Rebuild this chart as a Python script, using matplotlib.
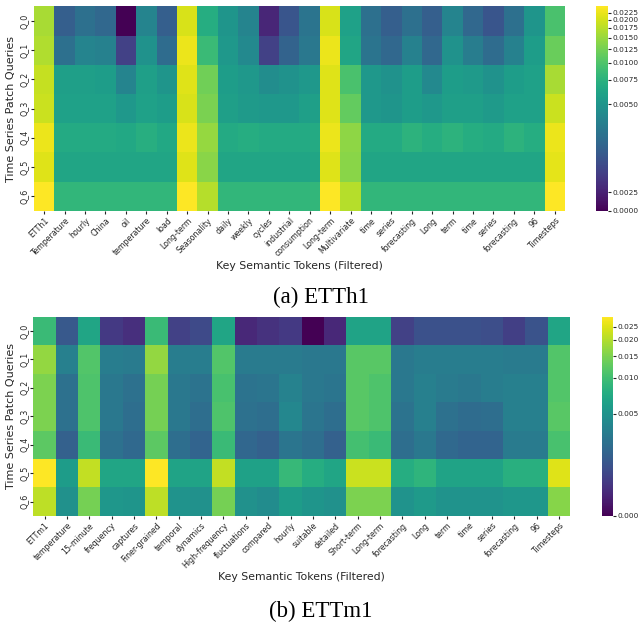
import numpy as np
import matplotlib
matplotlib.use("Agg")
import matplotlib.pyplot as plt
from matplotlib.colors import FuncNorm

# ---------------- data ----------------
queries = ["Q_0", "Q_1", "Q_2", "Q_3", "Q_4", "Q_5", "Q_6"]

tokens_h1 = ["ETTh1", "Temperature", "hourly", "China", "oil", "temperature", "load",
             "Long-term", "Seasonality", "daily", "weekly", "cycles", "industrial",
             "consumption", "Long-term", "Multivariate", "time", "series", "forecasting",
             "Long", "term", "time", "series", "forecasting", "96", "Timesteps"]

h1_q0 = [0.0163, 0.0037, 0.0041, 0.0039, 0.0000, 0.0046, 0.0037, 0.0204, 0.0070, 0.0050, 0.0046, 0.0026, 0.0035, 0.0042, 0.0204, 0.0060, 0.0041, 0.0037, 0.0041, 0.0037, 0.0046, 0.0039, 0.0035, 0.0041, 0.0050, 0.0096]
h1_q1 = [0.0168, 0.0041, 0.0046, 0.0045, 0.0031, 0.0049, 0.0040, 0.0226, 0.0086, 0.0052, 0.0047, 0.0031, 0.0038, 0.0043, 0.0226, 0.0064, 0.0042, 0.0039, 0.0045, 0.0039, 0.0049, 0.0044, 0.0040, 0.0045, 0.0056, 0.0118]
h1_q2 = [0.0185, 0.0058, 0.0058, 0.0056, 0.0046, 0.0058, 0.0050, 0.0211, 0.0122, 0.0056, 0.0052, 0.0048, 0.0049, 0.0052, 0.0211, 0.0096, 0.0052, 0.0049, 0.0056, 0.0047, 0.0056, 0.0054, 0.0049, 0.0056, 0.0060, 0.0163]
h1_q3 = [0.0191, 0.0060, 0.0060, 0.0060, 0.0052, 0.0060, 0.0056, 0.0204, 0.0130, 0.0058, 0.0054, 0.0052, 0.0052, 0.0058, 0.0211, 0.0114, 0.0052, 0.0050, 0.0056, 0.0052, 0.0058, 0.0058, 0.0054, 0.0060, 0.0060, 0.0191]
h1_q4 = [0.0226, 0.0068, 0.0068, 0.0068, 0.0066, 0.0072, 0.0066, 0.0226, 0.0148, 0.0068, 0.0070, 0.0068, 0.0068, 0.0068, 0.0226, 0.0143, 0.0068, 0.0068, 0.0075, 0.0070, 0.0075, 0.0070, 0.0068, 0.0075, 0.0070, 0.0226]
h1_q5 = [0.0211, 0.0064, 0.0064, 0.0064, 0.0064, 0.0064, 0.0064, 0.0211, 0.0139, 0.0064, 0.0064, 0.0064, 0.0064, 0.0064, 0.0211, 0.0139, 0.0064, 0.0064, 0.0064, 0.0064, 0.0064, 0.0064, 0.0064, 0.0064, 0.0064, 0.0218]
h1_q6 = [0.0249, 0.0080, 0.0080, 0.0080, 0.0080, 0.0080, 0.0080, 0.0249, 0.0173, 0.0080, 0.0080, 0.0080, 0.0080, 0.0080, 0.0249, 0.0173, 0.0080, 0.0080, 0.0080, 0.0080, 0.0080, 0.0080, 0.0080, 0.0080, 0.0080, 0.0249]

tokens_m1 = ["ETTm1", "temperature", "15-minute", "frequency", "captures", "Finer-grained",
             "temporal", "dynamics", "High-frequency", "fluctuations", "compared", "hourly",
             "suitable", "detailed", "Short-term", "Long-term", "forecasting", "Long", "term",
             "time", "series", "forecasting", "96", "Timesteps"]

m1_q0 = [0.0096, 0.0027, 0.0071, 0.0016, 0.0013, 0.0096, 0.0019, 0.0022, 0.0071, 0.0011, 0.0014, 0.0016, 0.0000, 0.0011, 0.0069, 0.0069, 0.0019, 0.0024, 0.0024, 0.0024, 0.0023, 0.0018, 0.0025, 0.0071]
m1_q1 = [0.0173, 0.0042, 0.0117, 0.0041, 0.0040, 0.0173, 0.0041, 0.0041, 0.0117, 0.0040, 0.0040, 0.0040, 0.0039, 0.0039, 0.0122, 0.0122, 0.0039, 0.0041, 0.0041, 0.0041, 0.0041, 0.0040, 0.0040, 0.0117]
m1_q2 = [0.0150, 0.0036, 0.0113, 0.0039, 0.0036, 0.0145, 0.0039, 0.0037, 0.0108, 0.0037, 0.0038, 0.0043, 0.0039, 0.0038, 0.0122, 0.0113, 0.0039, 0.0042, 0.0040, 0.0039, 0.0041, 0.0042, 0.0042, 0.0117]
m1_q3 = [0.0150, 0.0036, 0.0113, 0.0039, 0.0035, 0.0145, 0.0039, 0.0035, 0.0113, 0.0036, 0.0035, 0.0045, 0.0038, 0.0035, 0.0122, 0.0113, 0.0037, 0.0042, 0.0036, 0.0034, 0.0035, 0.0042, 0.0042, 0.0122]
m1_q4 = [0.0126, 0.0030, 0.0096, 0.0036, 0.0033, 0.0126, 0.0035, 0.0031, 0.0096, 0.0032, 0.0030, 0.0038, 0.0035, 0.0030, 0.0103, 0.0096, 0.0035, 0.0039, 0.0033, 0.0031, 0.0031, 0.0040, 0.0040, 0.0108]
m1_q5 = [0.0290, 0.0060, 0.0219, 0.0071, 0.0071, 0.0290, 0.0069, 0.0069, 0.0219, 0.0066, 0.0066, 0.0094, 0.0080, 0.0071, 0.0227, 0.0227, 0.0080, 0.0088, 0.0069, 0.0069, 0.0069, 0.0083, 0.0083, 0.0249]
m1_q6 = [0.0211, 0.0049, 0.0145, 0.0055, 0.0052, 0.0211, 0.0050, 0.0049, 0.0145, 0.0049, 0.0047, 0.0060, 0.0052, 0.0049, 0.0150, 0.0150, 0.0050, 0.0058, 0.0050, 0.0050, 0.0050, 0.0055, 0.0055, 0.0161]

cbar_ticks_h1 = [0.0, 0.0025, 0.005, 0.0075, 0.01, 0.0125, 0.015, 0.0175, 0.02, 0.0225]
cbar_ticks_m1 = [0.0, 0.005, 0.01, 0.015, 0.02, 0.025]

# non-linear colour scale calibration (value -> colour position)
norm_vals_h1 = [0.0, 0.0025, 0.005, 0.0075, 0.01, 0.0125, 0.015, 0.0175, 0.02, 0.0225, 0.0249]
norm_pos_h1 = [0.0, 0.091, 0.522, 0.642, 0.725, 0.789, 0.845, 0.894, 0.935, 0.969, 1.0]
norm_vals_m1 = [0.0, 0.005, 0.01, 0.015, 0.02, 0.025, 0.029]
norm_pos_m1 = [0.0, 0.513, 0.693, 0.801, 0.885, 0.951, 1.0]


def make_norm(vals, pos):
    vals = np.asarray(vals, float)
    pos = np.asarray(pos, float)

    def fwd(x):
        x = np.asarray(x, float)
        lo = pos[0] + (x - vals[0]) * (pos[1] - pos[0]) / (vals[1] - vals[0])
        hi = pos[-1] + (x - vals[-1]) * (pos[-1] - pos[-2]) / (vals[-1] - vals[-2])
        return np.where(x < vals[0], lo, np.where(x > vals[-1], hi, np.interp(x, vals, pos)))

    def inv(y):
        y = np.asarray(y, float)
        lo = vals[0] + (y - pos[0]) * (vals[1] - vals[0]) / (pos[1] - pos[0])
        hi = vals[-1] + (y - pos[-1]) * (vals[-1] - vals[-2]) / (pos[-1] - pos[-2])
        return np.where(y < pos[0], lo, np.where(y > pos[-1], hi, np.interp(y, pos, vals)))

    return FuncNorm((fwd, inv), vmin=vals[0], vmax=vals[-1])


plt.rcParams['font.family'] = ['DejaVu Sans']
TXT = "#262626"

fig = plt.figure(figsize=(6.42, 6.26), dpi=100)

panels = [
    dict(data=[h1_q0, h1_q1, h1_q2, h1_q3, h1_q4, h1_q5, h1_q6], tokens=tokens_h1,
         ticks=cbar_ticks_h1, fmt="{:.4f}", nv=norm_vals_h1, npos=norm_pos_h1,
         ax_rect=[0.053, 0.663, 0.827, 0.327], cax_rect=[0.929, 0.663, 0.0187, 0.327],
         caption="(a) ETTh1", cap_y=0.5256),
    dict(data=[m1_q0, m1_q1, m1_q2, m1_q3, m1_q4, m1_q5, m1_q6], tokens=tokens_m1,
         ticks=cbar_ticks_m1, fmt="{:.3f}", nv=norm_vals_m1, npos=norm_pos_m1,
         ax_rect=[0.052, 0.176, 0.836, 0.318], cax_rect=[0.9377, 0.176, 0.0176, 0.318],
         caption="(b) ETTm1", cap_y=0.0235),
]

for p in panels:
    mat = np.array(p["data"])
    ax = fig.add_axes(p["ax_rect"])
    cax = fig.add_axes(p["cax_rect"])
    norm = make_norm(p["nv"], p["npos"])
    mesh = ax.pcolormesh(np.arange(mat.shape[1] + 1), np.arange(mat.shape[0] + 1), mat,
                         cmap="viridis", norm=norm)
    ax.set_xlim(0, mat.shape[1])
    ax.set_ylim(mat.shape[0], 0)
    ax.set_xticks(np.arange(mat.shape[1]) + 0.5)
    ax.set_xticklabels(p["tokens"], rotation=45, ha="right", rotation_mode="anchor",
                       fontsize=5.7, color=TXT)
    ax.set_yticks(np.arange(mat.shape[0]) + 0.5)
    ax.set_yticklabels(queries, rotation=90, va="center", fontsize=5.7, color=TXT)
    ax.tick_params(axis="both", length=2.2, width=0.8, color=TXT, pad=1.5)
    for s in ax.spines.values():
        s.set_visible(False)
    ax.set_xlabel("Key Semantic Tokens (Filtered)", fontsize=7.8, color=TXT, labelpad=1.5)
    ax.set_ylabel("Time Series Patch Queries", fontsize=8, color=TXT, labelpad=2.5)

    cb = fig.colorbar(mesh, cax=cax)
    cb.outline.set_visible(False)
    cb.set_ticks(p["ticks"])
    cb.set_ticklabels([p["fmt"].format(t) for t in p["ticks"]])
    cb.ax.tick_params(labelsize=5.3, length=2, width=0.8, color=TXT,
                      labelcolor=TXT, pad=1.2)
    cb.ax.minorticks_off()

    fig.text(0.5, p["cap_y"], p["caption"], ha="center", va="center",
             fontsize=16.5, family="Liberation Serif", color="black")

fig.savefig("out.png", dpi=100)
